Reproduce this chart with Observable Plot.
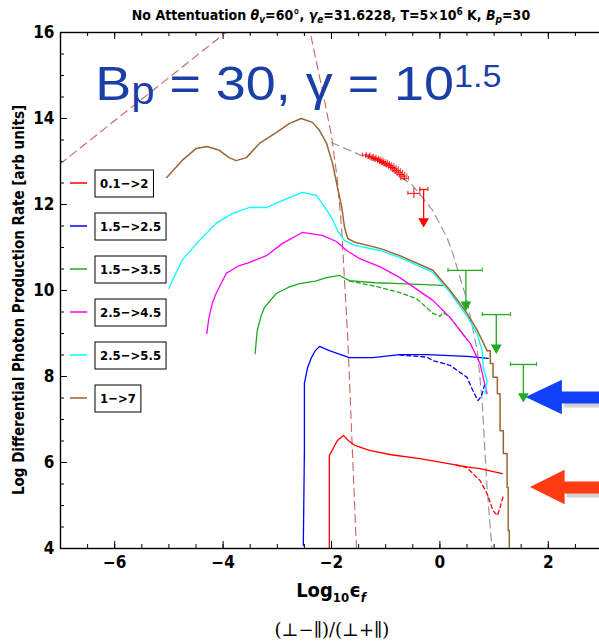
<!DOCTYPE html>
<html><head><meta charset="utf-8">
<script src="https://cdn.jsdelivr.net/npm/d3@7"></script>
<script src="https://cdn.jsdelivr.net/npm/@observablehq/plot@0.6"></script>
<style>
html,body{margin:0;padding:0;background:#fff;overflow:hidden;}
#chart{width:599px;height:641px;}
</style></head><body><div id="chart"></div>
<script>
// ---------------- data ----------------
const legendLabels = ["0.1−>2", "1.5−>2.5", "1.5−>3.5", "2.5−>4.5", "2.5−>5.5", "1−>7"];
const seriesColors = ["#ff0000", "#0000ff", "#1faa1f", "#ff00ff", "#00ffff", "#996633"];
const xTickValues = [-6, -4, -2, 0, 2];
const yTickValues = [4, 6, 8, 10, 12, 14, 16];

// solid / dashed spectra, [log10 eps_f, log rate]
const redSolid = [[-2.04,4.0],[-2.04,6.16],[-1.98,6.3],[-1.94,6.4],[-1.89,6.51],[-1.78,6.63],[-1.68,6.5],[-1.57,6.4],[-1.3,6.28],[-0.9,6.18],[-0.37,6.09],[0.13,5.98],[0.5,5.9],[0.74,5.86],[1.15,5.74]];
const redDashed = [[0.3,5.94],[0.5,5.88],[0.74,5.58],[0.87,5.28],[0.98,4.88],[1.06,4.77],[1.11,4.95],[1.17,5.23]];
const blueSolid = [[-2.52,4.07],[-2.5,6.28],[-2.5,7.84],[-2.44,8.21],[-2.37,8.44],[-2.3,8.6],[-2.22,8.7],[-2.04,8.6],[-1.67,8.44],[-1.24,8.44],[-0.74,8.51],[-0.24,8.51],[0.5,8.47],[0.89,8.42]];
const blueDashed = [[-0.74,8.5],[-0.24,8.45],[-0.13,8.37],[0.19,8.26],[0.5,7.98],[0.61,7.67],[0.7,7.44],[0.74,7.5],[0.78,7.6],[0.83,7.84]];
const greenSolid = [[-3.41,8.53],[-3.39,8.8],[-3.37,9.07],[-3.3,9.4],[-3.24,9.6],[-3.02,9.93],[-2.8,10.07],[-2.59,10.16],[-2.3,10.22],[-2.09,10.3],[-1.85,10.35],[-1.67,10.23],[-1.2,10.18],[-0.74,10.16],[0.06,10.12]];
const greenDashed = [[-1.67,10.22],[-1.2,10.1],[-0.74,9.95],[-0.43,9.81],[-0.13,9.47],[0.0,9.4],[0.06,9.49],[0.19,9.37],[0.5,8.85]];
const magentaSolid = [[-4.3,9.0],[-4.28,9.2],[-4.26,9.37],[-4.2,9.7],[-4.13,9.93],[-3.94,10.4],[-3.7,10.58],[-3.52,10.65],[-3.2,10.81],[-2.91,11.09],[-2.54,11.35],[-2.17,11.28],[-1.91,11.14],[-1.72,10.93],[-1.48,10.74],[-1.1,10.55],[-0.74,10.3],[-0.13,9.77],[0.19,9.37],[0.56,8.77],[0.74,8.3],[0.87,7.6]];
const cyanSolid = [[-5.0,10.05],[-4.76,10.7],[-4.44,11.16],[-4.13,11.56],[-3.83,11.79],[-3.52,11.93],[-3.2,11.93],[-2.91,12.09],[-2.54,12.28],[-2.28,12.21],[-2.17,12.02],[-2.0,11.7],[-1.89,11.4],[-1.76,11.16],[-1.57,11.05],[-1.11,10.93],[-0.74,10.77],[-0.13,10.42],[0.19,9.95],[0.5,9.4],[0.69,8.98],[0.78,8.6],[0.8,8.2],[0.87,7.9],[0.83,7.6]];
const brownSolid = [[-5.04,12.63],[-4.76,13.02],[-4.5,13.3],[-4.3,13.35],[-4.07,13.26],[-3.89,13.09],[-3.76,13.02],[-3.57,13.09],[-3.33,13.42],[-3.02,13.67],[-2.78,13.88],[-2.56,14.0],[-2.35,13.91],[-2.22,13.72],[-2.09,13.42],[-1.98,12.95],[-1.89,12.4],[-1.81,11.93],[-1.76,11.47],[-1.7,11.21],[-1.57,11.12],[-1.11,10.98],[-0.74,10.81],[-0.13,10.47],[0.19,10.0],[0.5,9.47],[0.69,9.07],[0.87,8.6]];
const brownTail = [[0.87,8.6],[0.93,8.3],[0.98,7.98],[1.06,7.6],[1.11,6.74],[1.17,6.21],[1.24,5.42],[1.26,4.42],[1.28,4.0]];
const grayDashed = [[-2.0,13.44],[-1.54,13.19],[-1.02,12.91],[-0.5,12.44],[-0.13,11.86],[0.13,11.23],[0.22,10.93],[0.33,10.47],[0.5,9.77],[0.69,8.6],[0.78,7.44],[0.83,6.28],[0.87,5.42],[0.96,4.0]];
const pinkLine = [[-7.2,12.75],[-3.8,16.15]];
const pinkCurve = [[-2.48,16.5],[-2.39,15.98],[-2.28,15.33],[-2.13,14.42],[-2.0,13.6],[-1.89,12.56],[-1.81,11.4],[-1.76,10.23],[-1.7,8.91],[-1.63,6.74],[-1.54,4.0]];

// observed points (red) with error bars
const obsX = [-1.36,-1.30,-1.25,-1.20,-1.16,-1.12,-1.08,-1.04,-1.00,-0.96,-0.92,-0.88,-0.84,-0.80,-0.76,-0.72,-0.68,-0.65,-0.48];
const obsY = [13.15,13.12,13.10,13.07,13.05,13.03,13.00,12.98,12.95,12.92,12.90,12.86,12.83,12.79,12.75,12.70,12.66,12.60,12.26];
const obsXErr = [0.07,0.07,0.07,0.07,0.07,0.07,0.07,0.07,0.07,0.07,0.07,0.07,0.07,0.07,0.07,0.07,0.07,0.07,0.11];
const obsYErr = [0.05,0.05,0.05,0.05,0.05,0.05,0.05,0.05,0.05,0.05,0.05,0.05,0.05,0.05,0.05,0.05,0.05,0.05,0.12];
// upper limits: [xLow, xHigh, xCenter, y, arrowTip]
const redLimit = [[-0.37,-0.22,-0.3,12.35,11.47]];
const greenLimits = [[0.15,0.78,0.48,10.47,9.53],[0.78,1.3,1.04,9.44,8.53],[1.3,1.78,1.54,8.28,7.4]];
// big annotation arrows: [tipX, baseX, endX, y, headHalf, colour]
const bigArrows = [[1.59,2.26,3.0,7.51,0.4,"#1040f8"],[1.67,2.31,3.0,5.42,0.4,"#ff3b14"]];

// ---------------- chart ----------------
const FONT = "'Liberation Sans Narrow','DejaVu Sans Condensed','Roboto Condensed','Liberation Sans',Arial,sans-serif";
const P = d => d[0], Q = d => d[1];
const lineOf = (data, color, dash, w = 1.3, curve = "linear") => Plot.line(data, {x: P, y: Q, stroke: color, strokeWidth: w, strokeDasharray: dash, curve, clip: true});

const obs = obsX.map((x, i) => ({x, y: obsY[i], ex: obsXErr[i], ey: obsYErr[i]}));
const limits = [...redLimit.map(d => ({d, c: "#ff0000"})), ...greenLimits.map(d => ({d, c: "#1faa1f"}))];
const arrowHeads = bigArrows.map(a => [{x: a[0], y1: a[3], y2: a[3], c: a[5]}, {x: a[1], y1: a[3] - a[4], y2: a[3] + a[4], c: a[5]}]);

const xMinor = d3.range(-7, 3.01, 0.5);
const yMinor = d3.range(4, 16.01, 0.5);
const tx = 7 / 43, txm = 4 / 43, ty = 7 / 54, tym = 4 / 54;

const chart = Plot.plot({
  width: 599, height: 641,
  marginLeft: 60, marginRight: -3, marginTop: 32, marginBottom: 93,
  x: {domain: [-7, 3]},
  y: {domain: [4, 16]},
  style: {fontFamily: FONT, fontWeight: "bold", fontSize: "17px", color: "black", background: "white"},
  marks: [
    // ticks (inward)
    Plot.ruleX(xTickValues, {x: d => d, y1: 4, y2: 4 + tx, stroke: "black"}),
    Plot.ruleX(xMinor, {x: d => d, y1: 4, y2: 4 + txm, stroke: "black"}),
    Plot.ruleX(xTickValues, {x: d => d, y1: 16, y2: 16 - tx, stroke: "black"}),
    Plot.ruleX(xMinor, {x: d => d, y1: 16, y2: 16 - txm, stroke: "black"}),
    Plot.ruleY(yTickValues, {y: d => d, x1: -7, x2: -7 + ty, stroke: "black"}),
    Plot.ruleY(yMinor, {y: d => d, x1: -7, x2: -7 + tym, stroke: "black"}),
    Plot.axisX(xTickValues, {anchor: "bottom", tickSize: 0, tickPadding: 7, label: null, fontSize: 17, fontWeight: "bold"}),
    Plot.axisY(yTickValues, {anchor: "left", tickSize: 0, tickPadding: 6, label: null, fontSize: 17, fontWeight: "bold"}),
    // reference curves
    lineOf(pinkLine, "#c86464", "8,5", 1.1),
    lineOf(pinkCurve, "#c86464", "8,5", 1.1),
    lineOf(grayDashed, "#999999", "8,5", 1.2),
    // spectra
    lineOf(redSolid, seriesColors[0]),
    lineOf(redDashed, seriesColors[0], "4,3"),
    lineOf(blueSolid, seriesColors[1]),
    lineOf(blueDashed, seriesColors[1], "4,3"),
    lineOf(greenSolid, seriesColors[2]),
    lineOf(greenDashed, seriesColors[2], "4,3"),
    lineOf(magentaSolid, seriesColors[3]),
    lineOf(cyanSolid, seriesColors[4]),
    lineOf(brownSolid, seriesColors[5], null, 1.5),
    lineOf(brownTail, seriesColors[5], null, 1.5, "step-after"),
    // observed points
    Plot.ruleY(obs, {y: "y", x1: d => d.x - d.ex, x2: d => d.x + d.ex, stroke: "#ff0000", strokeWidth: 1}),
    Plot.ruleX(obs, {x: "x", y1: d => d.y - d.ey, y2: d => d.y + d.ey, stroke: "#ff0000", strokeWidth: 1}),
    Plot.ruleX(obs, {x: d => d.x - d.ex, y1: d => d.y - 0.05, y2: d => d.y + 0.05, stroke: "#ff0000", strokeWidth: 0.8}),
    Plot.ruleX(obs, {x: d => d.x + d.ex, y1: d => d.y - 0.05, y2: d => d.y + 0.05, stroke: "#ff0000", strokeWidth: 0.8}),
    // upper limits
    Plot.ruleY(limits, {y: d => d.d[3], x1: d => d.d[0], x2: d => d.d[1], stroke: d => d.c, strokeWidth: 1.3}),
    Plot.ruleX(limits, {x: d => d.d[0], y1: d => d.d[3] - 0.05, y2: d => d.d[3] + 0.05, stroke: d => d.c}),
    Plot.ruleX(limits, {x: d => d.d[1], y1: d => d.d[3] - 0.05, y2: d => d.d[3] + 0.05, stroke: d => d.c}),
    Plot.ruleX(limits, {x: d => d.d[2], y1: d => d.d[4] + 0.12, y2: d => d.d[3], stroke: d => d.c, strokeWidth: 1.3}),
    Plot.dot(limits, {x: d => d.d[2], y: d => d.d[4], symbol: "triangle", rotate: 180, r: 4, dy: -6, fill: d => d.c, stroke: "none"}),
    // big arrows (shadow then arrow)
    ...bigArrows.map(a => Plot.ruleY([a], {y: d => d[3], x1: d => d[1] - 0.02, x2: d => d[2], stroke: "#777", strokeOpacity: 0.35, strokeWidth: 12, dx: 3, dy: 4, ariaLabel: "shadow"})),
    ...arrowHeads.map(h => Plot.areaY(h, {x: "x", y1: "y1", y2: "y2", fill: "#777", fillOpacity: 0.35, dx: 3, dy: 4, ariaLabel: "shadow"})),
    ...bigArrows.map(a => Plot.ruleY([a], {y: d => d[3], x1: d => d[1] - 0.02, x2: d => d[2], stroke: a[5], strokeWidth: 12})),
    ...arrowHeads.map(h => Plot.areaY(h, {x: "x", y1: "y1", y2: "y2", fill: d => d.c})),
    Plot.frame({stroke: "black", strokeWidth: 1.4})
  ]
});
document.getElementById("chart").appendChild(chart);

// ---------------- text & legend ----------------
const svg = d3.select(chart);
const xs = chart.scale("x"), ys = chart.scale("y");

// soft shadow filter
const defs = svg.append("defs");
defs.append("filter").attr("id", "blur").append("feGaussianBlur").attr("stdDeviation", 2);
svg.selectAll('g[aria-label="shadow"]').attr("filter", "url(#blur)");

function richText(x, y, segs, o) {
  const t = svg.append("text").attr("x", x).attr("y", y)
    .attr("text-anchor", o.anchor || "start")
    .attr("font-family", o.family || FONT).attr("font-size", o.size)
    .attr("font-weight", o.weight || "bold").attr("fill", o.fill || "black");
  if (o.transform) t.attr("transform", o.transform);
  let cur = 0;
  for (const s of segs) {
    const shift = s.shift || 0;
    const ts = t.append("tspan").text(s.t).attr("dy", shift - cur);
    cur = shift;
    if (s.size) ts.attr("font-size", s.size);
    if (s.italic) ts.attr("font-style", "italic");
  }
  return t;
}

// title
richText(331, 20, [
  {t: "No Attentuation "}, {t: "θ", italic: 1}, {t: "v", italic: 1, size: 10, shift: 3},
  {t: "=60°, "}, {t: "γ", italic: 1}, {t: "e", italic: 1, size: 10, shift: 3},
  {t: "=31.6228, T=5×10"}, {t: "6", size: 10, shift: -5}, {t: " K, "},
  {t: "B", italic: 1}, {t: "p", italic: 1, size: 10, shift: 3}, {t: "=30"}
], {anchor: "middle", size: 14});

// y label
richText(0, 0, [{t: "Log Differential Photon Production Rate [arb units]"}],
  {anchor: "middle", size: 15, transform: "translate(24,300) rotate(-90)"});

// x label
richText(331, 597, [{t: "Log"}, {t: "10", size: 13, shift: 5}, {t: "ϵ", shift: 0}, {t: "f", italic: 1, size: 13, shift: 5}],
  {anchor: "middle", size: 20});

// caption
richText(332, 636, [{t: "(⊥−∥)/(⊥+∥)"}], {anchor: "middle", size: 18, weight: "normal", family: "'DejaVu Serif','Liberation Serif',serif"});

// big annotation text
richText(0, 0, [
  {t: "B"}, {t: "p", size: 38, shift: 4}, {t: " = 30, γ = 10"}, {t: "1.5", size: 31, shift: -13}
], {size: 49, weight: "normal", fill: "#1a3fa6", family: "'Liberation Sans',Arial,sans-serif",
    transform: `translate(${xs.apply(-6.35)},${ys.apply(14.42)}) scale(1.1,1)`});

// legend
const lg = svg.append("g");
legendLabels.forEach((lab, i) => {
  const yc = 183 + i * 43;
  lg.append("line").attr("x1", 70).attr("x2", 87).attr("y1", yc).attr("y2", yc)
    .attr("stroke", seriesColors[i]).attr("stroke-width", 1.5);
  const rect = lg.append("rect").attr("x", 95).attr("y", yc - 13).attr("height", 27)
    .attr("fill", "white").attr("stroke", "black").attr("stroke-width", 1);
  const t = lg.append("text").attr("x", 100).attr("y", yc + 5).attr("text-anchor", "start")
    .attr("font-family", FONT).attr("font-size", 13).attr("font-weight", "bold").text(lab);
  rect.attr("width", t.node().getComputedTextLength() + 10);
});
</script>
</body></html>
